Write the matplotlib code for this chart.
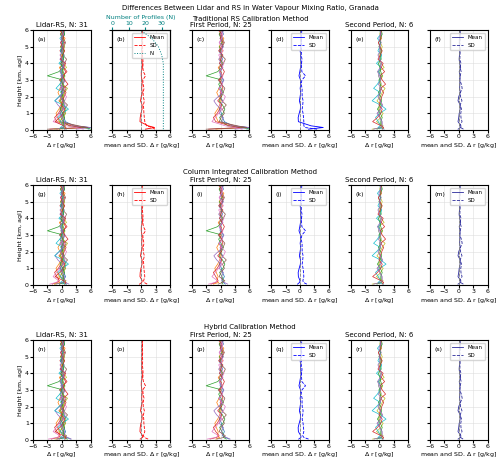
import numpy as np
import matplotlib.pyplot as plt

heights = [0.05, 0.15, 0.25, 0.5, 0.75, 1.0, 1.25, 1.5, 1.75, 2.0, 2.25, 2.5, 2.75,
           3.0, 3.25, 3.5, 3.75, 4.0, 4.25, 4.5, 4.75, 5.0, 5.25, 5.5, 5.75, 6.0]

# lidar - RS differences above the surface layer, g/kg (first period: 7, second period: 6)
profiles_upper = [
    [0.8, 0.4, 0.2, -0.3, 0.1, 0.5, -0.2, 0.3, -0.4, 0.2, 0.6, -0.1, 0.0, 0.3, -0.2, 0.4, 0.1, -0.3, 0.5, 0.2, -0.1, 0.6, 0.3],
    [-0.5, -0.9, -1.2, -0.6, -0.2, 0.1, -0.4, -0.8, -0.3, 0.2, -0.1, 0.4, 0.0, -0.5, 0.3, -0.2, 0.1, 0.4, -0.3, 0.2, 0.7, -0.2, 0.1],
    [0.3, -0.2, 0.5, 0.9, 0.4, -0.3, 0.2, 0.6, 0.1, -0.4, 0.3, -3.0, -0.6, 0.2, 0.5, -0.1, 0.3, 0.0, -0.2, 0.4, 0.1, -0.3, 0.2],
    [-1.0, -1.5, -0.7, -0.2, 0.3, -0.6, 0.2, -0.1, 0.5, 0.2, -0.3, 0.4, 0.8, 0.3, -0.2, 0.1, 0.5, -0.4, 0.2, 0.6, -0.1, 0.3, -0.5],
    [0.2, 0.6, -0.3, 0.1, -0.8, -1.4, -0.5, 0.4, -0.2, 0.3, 0.7, 0.1, -0.3, 0.5, 0.2, -0.4, 0.3, 0.1, 0.6, -0.2, 0.4, 0.0, 0.8],
    [-0.3, 0.1, 0.8, 0.4, 1.2, 0.3, -0.1, 0.5, 0.9, 0.2, -0.5, 0.3, 0.1, -0.3, 0.6, 1.0, 0.2, -0.1, 0.4, 0.8, 0.3, -0.2, 0.5],
    [-1.8, -1.1, -0.4, 0.3, -0.2, 0.6, 1.0, 0.2, -0.3, 0.4, 0.1, 0.5, -0.2, 0.3, 0.7, 0.2, -0.4, 0.6, 0.1, -0.3, 0.2, 0.5, -0.1],
    [0.4, 0.2, -0.3, 0.1, 0.5, 0.2, -0.1, 0.3, 0.0, 0.4, 0.2, -0.2, 0.1, 0.3, 0.2, -0.1, 0.4, 0.1, 0.2, -0.2, 0.3, 0.5, 0.2],
    [-0.6, 0.3, 0.8, -0.2, 0.4, -0.5, 0.2, 0.6, 1.2, 0.1, 0.3, 0.7, -0.3, 1.0, 0.4, 0.2, -0.1, 0.3, 0.6, 0.2, 0.4, 0.1, 0.3],
    [-0.2, -0.8, 0.1, 1.4, 0.3, -1.5, -0.6, 0.2, -1.2, -0.4, 0.1, 0.3, -0.2, 0.4, -0.6, 0.2, 0.5, -0.3, 0.1, 0.2, -0.4, 0.3, 0.1],
    [0.3, 0.6, 0.2, -0.4, 0.1, 0.5, 0.3, -0.2, 0.4, 0.2, -0.1, 0.6, 0.3, 0.1, -0.2, 0.4, 0.2, 0.5, -0.1, 0.3, 0.2, 0.6, 0.4],
    [-1.4, -0.4, 0.3, 0.6, -0.1, 0.2, 0.5, 0.9, 0.3, 1.3, 0.6, 0.2, 1.1, 0.4, 0.8, -0.3, 0.2, 0.6, 0.1, -0.2, 0.4, 0.2, 0.5],
    [0.6, 0.1, -0.5, 0.3, 0.7, 0.2, -0.3, 0.1, 0.4, -0.2, 0.3, 0.1, -0.4, 0.2, 0.5, 0.1, -0.3, 0.2, 0.0, 0.4, -0.1, 0.3, 0.2],
]

# lowest three levels (0.05, 0.15, 0.25 km) per calibration method
surface_traditional = [
    [5.5, 6.0, 2.5], [-1.0, 5.0, 3.0], [6.0, 4.5, 1.5], [-2.5, 4.0, 2.0], [3.0, 6.0, 2.8],
    [-3.0, 5.5, 3.5], [4.5, 3.0, 1.0], [1.0, 0.6, 0.5], [-1.5, 0.5, 0.8], [0.8, -0.3, 0.2],
    [-0.5, 0.4, 0.3], [0.6, 0.9, 0.4], [-1.2, 0.3, 0.6],
]
surface_column = [
    [1.0, 0.6, 0.3], [-1.5, -0.4, -0.8], [0.5, 0.2, 0.6], [-2.0, -1.0, -0.5], [1.5, 0.8, 0.3],
    [-0.5, 0.4, 0.9], [-2.5, -1.2, -0.6], [0.9, 0.5, 0.4], [-1.5, 0.5, 0.8], [0.8, -0.3, 0.2],
    [-0.5, 0.4, 0.3], [0.6, 0.9, 0.4], [-1.2, 0.3, 0.6],
]
surface_hybrid = [
    [1.8, 1.0, 0.4], [-1.0, -0.2, -0.6], [1.2, 0.6, 0.7], [-2.2, -0.8, -0.3], [2.0, 1.2, 0.5],
    [-0.8, 0.7, 1.0], [-2.8, -1.0, -0.4], [0.9, 0.5, 0.4], [-1.4, 0.5, 0.8], [0.7, -0.3, 0.2],
    [-0.5, 0.4, 0.3], [0.6, 0.9, 0.4], [-1.1, 0.3, 0.6],
]

n_heights = [0.05, 0.25, 0.5, 1.0, 2.0, 3.0, 4.0, 4.5, 5.0, 5.5, 6.0]
n_profiles = [31, 31, 31, 31, 31, 31, 31, 30, 28, 24, 17]

methods = ["Traditional RS Calibration Method", "Column Integrated Calibration Method",
           "Hybrid Calibration Method"]
surfaces = [surface_traditional, surface_column, surface_hybrid]
panel_letters = [list("abcdef"), list("ghijkm"), list("nopqrs")]
n_first = 7
line_colors = ['tab:blue', 'tab:orange', 'tab:green', 'tab:red', 'tab:purple', 'tab:brown',
               'tab:pink', 'tab:gray', 'tab:olive', 'tab:cyan', 'tab:green', 'tab:red', 'tab:purple']
mean_colors = ['red', 'blue', '#2a2a9a']

plt.rcParams['font.size'] = 4.5
fig, axes = plt.subplots(3, 6, figsize=(5, 4.69), dpi=100, sharey=True)
fig.subplots_adjust(left=0.066, right=0.975, top=0.936, bottom=0.062, hspace=0.55, wspace=0.38)
fig.text(0.5, 0.983, "Differences Between Lidar and RS in Water Vapour Mixing Ratio, Granada",
         ha='center', va='center', fontsize=5)
row_titles_y = [0.96, 0.633, 0.303]

for r in range(3):
    fig.text(0.5, row_titles_y[r], methods[r], ha='center', va='center', fontsize=5)
    data = np.array([s + u for s, u in zip(surfaces[r], profiles_upper)])
    groups = [(data, "Lidar-RS, N: 31"), (data[:n_first], "First Period, N: 25"),
              (data[n_first:], "Second Period, N: 6")]
    for g, (d, title) in enumerate(groups):
        ax = axes[r, 2 * g]
        for i, p in enumerate(d):
            ax.plot(p, heights, lw=0.5, color=line_colors[(i + (n_first if g == 2 else 0)) % 13])
        ax.set_title(title, fontsize=5, pad=2)
        ax.set_xlabel(r"$\Delta$ r [g/kg]", labelpad=1)
        axm = axes[r, 2 * g + 1]
        col = mean_colors[g]
        axm.plot(d.mean(axis=0), heights, color=col, lw=0.6, label='Mean')
        axm.plot(d.std(axis=0), heights, color=col, lw=0.6, ls='--', label='SD')
        axm.axvline(0, color='gray', ls='--', lw=0.6)
        axm.set_xlabel(r"mean and SD. $\Delta$ r [g/kg]", labelpad=1)
        if g == 0 and r == 0:
            axn = axm.twiny()
            axn.plot(n_profiles, n_heights, color='teal', ls=':', lw=0.7, label='N')
            axn.set_xlim(0, 35)
            axn.set_xticks([0, 10, 20, 30])
            axn.tick_params(colors='teal', labelsize=4.5, pad=1, length=2)
            axn.set_xlabel("Number of Profiles (N)", color='teal', labelpad=1)
            h1, l1 = axm.get_legend_handles_labels()
            h2, l2 = axn.get_legend_handles_labels()
            axm.legend(h1 + h2, l1 + l2, loc='upper right', fontsize=4)
        elif g > 0 or r == 1:
            axm.legend(loc='upper right', fontsize=4)
    for c in range(6):
        ax = axes[r, c]
        ax.set_xlim(-6, 6)
        ax.set_ylim(0, 6)
        ax.set_xticks([-6, -3, 0, 3, 6])
        ax.grid(True, lw=0.4, color='#dddddd')
        ax.tick_params(pad=1, length=2, labelsize=4.5, labelleft=(c == 0))
        ax.text(0.08, 0.93, "(%s)" % panel_letters[r][c], transform=ax.transAxes, va='top')
    axes[r, 0].set_ylabel("Height [km, agl]", labelpad=1)

fig.savefig("out.png", dpi=100)
